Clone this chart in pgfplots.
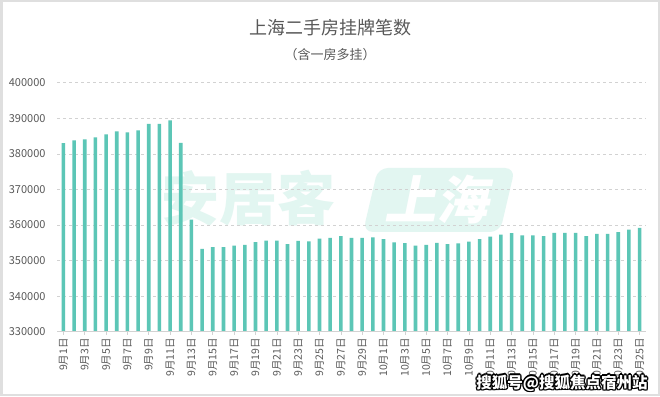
\documentclass[border=0pt]{standalone}
\usepackage{fontspec}
\setmainfont{Noto Sans CJK SC}
\usepackage{pgfplots}
\pgfplotsset{compat=1.18}
\definecolor{barc}{RGB}{92,198,182}
\definecolor{txt}{RGB}{89,89,89}
\definecolor{gridc}{RGB}{210,210,210}
\definecolor{wm}{RGB}{226,246,241}
\pgfplotstableread{
x y
1 383000
2 383800
3 384100
4 384600
5 385500
6 386300
7 386000
8 386600
9 388400
10 388400
11 389400
12 383100
13 361500
14 353300
15 353800
16 353800
17 354200
18 354400
19 355200
20 355600
21 355600
22 354600
23 355500
24 355400
25 356200
26 356400
27 356900
28 356400
29 356400
30 356500
31 356000
32 355100
33 354900
34 354200
35 354400
36 355000
37 354600
38 354800
39 355300
40 356000
41 356700
42 357300
43 357700
44 357100
45 357100
46 356900
47 357800
48 357800
49 357800
50 356900
51 357500
52 357500
53 358000
54 358700
55 359200
}\datatable
\begin{document}
\begin{tikzpicture}[x=1pt,y=1pt]
\path[use as bounding box] (0,0) rectangle (660pt,396pt);
\fill[white] (0,0) rectangle (660pt,396pt);
\draw[gray!25, line width=2.5pt] (1.25pt,1.25pt) rectangle (658.75pt,394.75pt);
% title
\node[txt, font=\fontsize{18}{20}\selectfont] at (330pt,368pt) {上海二手房挂牌笔数};
\node[txt, font=\fontsize{13}{15}\selectfont] at (330pt,341pt) {（含一房多挂）};
% watermark
\node[wm, font=\fontsize{58}{60}\selectfont\bfseries] at (248pt,198pt) {安居客};
\fill[wm, rounded corners=10pt] (363pt,164pt) -- (500pt,164pt) -- (515pt,228pt) -- (378pt,228pt) -- cycle;
\node[white, font=\fontsize{52}{54}\selectfont\bfseries, xslant=0.2] at (440pt,196pt) {上海};
\begin{axis}[
  at={(57pt,64.3pt)}, anchor=south west,
  scale only axis, width=589pt, height=249pt,
  xmin=0.4, xmax=55.6, ymin=330000, ymax=400000,
  ytick={330000,340000,...,400000},
  ymajorgrids, grid style={dashed, gridc, line width=0.6pt},
  axis line style={draw=none},
  ytick style={draw=none},
  xtick pos=bottom,
  xtick style={gridc, line width=0.6pt},
  tick align=outside, major tick length=3pt,
  xtick={1,3,...,55},
  xticklabels={9月1日,9月3日,9月5日,9月7日,9月9日,9月11日,9月13日,9月15日,9月17日,9月19日,9月21日,9月23日,9月25日,9月27日,9月29日,10月1日,10月3日,10月5日,10月7日,10月9日,10月11日,10月13日,10月15日,10月17日,10月19日,10月21日,10月23日,10月25日},
  x tick label style={rotate=90, anchor=east, txt, font=\fontsize{10.5}{11}\selectfont},
  y tick label style={txt, font=\fontsize{11}{12}\selectfont, xshift=-5pt},
  /pgf/number format/assume math mode=true,
  /pgf/number format/1000 sep={},
  yticklabel style={/pgf/number format/fixed},
  scaled y ticks=false,
  ybar, bar width=3.6pt,
]
\addplot[fill=barc, draw=none] table[x=x,y=y] {\datatable};
\draw[gridc, line width=0.8pt] (axis cs:0.4,330000) -- (axis cs:55.6,330000);
\end{axis}
% sohu watermark
\foreach \dx/\dy in {-1/-1,-1/1,1/-1,1/1,-1.3/0,1.3/0,0/1.3,0/-1.3}{
  \node[black, font=\fontsize{15.5}{17}\selectfont\bfseries] at (562pt+\dx pt,13pt+\dy pt) {搜狐号@搜狐焦点宿州站};
}
\node[white, font=\fontsize{15.5}{17}\selectfont\bfseries] at (562pt,13pt) {搜狐号@搜狐焦点宿州站};
\end{tikzpicture}
\end{document}
